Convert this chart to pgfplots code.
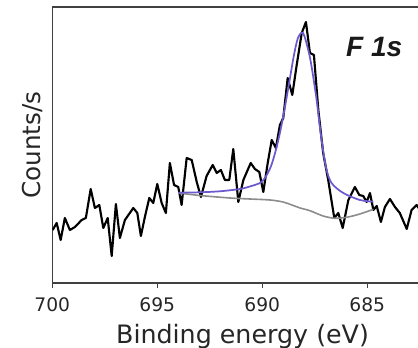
\documentclass[border=0pt]{standalone}
\usepackage{fontspec}
\setmainfont{DejaVu Sans}
\newfontfamily\arialfont{Liberation Sans}
\usepackage{pgfplots}
\pgfplotsset{compat=1.18}
\definecolor{fitblue}{RGB}{106,90,205}
\definecolor{bggray}{RGB}{140,140,140}
\begin{document}
\begin{tikzpicture}
\path[use as bounding box] (0,0) rectangle (313.5pt,261pt);
\begin{axis}[
  at={(39.2pt,48.75pt)}, anchor=south west,
  scale only axis, width=283.5pt, height=207pt,
  x dir=reverse, xmin=682, xmax=700, ymin=0, ymax=276,
  xtick={685,690,695,700}, ytick=\empty,
  xtick pos=bottom, tick align=outside,
  major tick length=3.75pt,
  every tick/.style={black!75, line width=0.8pt},
  axis line style={black!75, line width=0.8pt},
  /pgf/number format/assume math mode=true,
  tick label style={font=\fontsize{14}{16}\selectfont, text=black!85},
  xticklabel style={yshift=-4pt},
  xlabel={Binding energy (eV)},
  xlabel style={at={(axis cs:690.94,0)}, anchor=center, yshift=-40pt, font=\fontsize{19}{22}\selectfont, text=black!85},
  ylabel={Counts/s},
  ylabel style={at={(rel axis cs:0,0.5)}, anchor=center, yshift=15.2pt, font=\fontsize{18.5}{22}\selectfont, text=black!85},
  clip=true,
]
\addplot[black, line width=1.6pt, line join=round] coordinates {
(699.98,53)(699.79,60)(699.60,43)(699.40,65)(699.16,53)(698.92,56)(698.60,63)(698.40,65)
(698.17,94)(697.97,75)(697.76,78)(697.57,55)(697.36,65)(697.17,27)(696.97,79)(696.78,45)
(696.54,63)(696.14,75)(695.95,70)(695.78,47)(695.59,66)(695.38,85)(695.19,80)(695.00,99)
(694.79,80)(694.59,70)(694.40,120)(694.20,98)(694.00,96)(693.84,78)(693.60,125)(693.36,123)
(693.12,101)(692.92,86)(692.65,107)(692.36,118)(692.17,110)(691.97,113)(691.78,103)(691.57,103)
(691.38,134)(691.14,81)(690.90,103)(690.55,120)(690.35,114)(690.14,111)(689.95,91)(689.74,120)
(689.55,143)(689.35,135)(689.16,158)(689.00,165)(688.79,205)(688.57,188)(688.36,218)(688.12,250)
(687.92,261)(687.73,230)(687.54,228)(687.33,173)(687.10,130)(686.86,103)(686.57,65)(686.38,70)
(686.17,55)(685.90,83)(685.59,96)(685.38,88)(685.19,87)(685.03,81)(684.87,90)(684.71,73)
(684.55,77)(684.35,61)(684.16,76)(683.92,84)(683.68,76)(683.45,70)(683.12,54)(682.89,73)
(682.65,78)(682.49,73)
};
\addplot[bggray, line width=1.2pt, smooth] coordinates {
(694.00,90)(692.97,87.5)(691.54,85)(690.59,84)(689.63,83)(689.01,81)(688.59,78)(688.20,75)
(687.73,72.3)(687.10,67)(686.54,64.7)(685.98,65.7)(685.35,69)(684.71,73.7)
};
\addplot[fitblue, line width=1.3pt, smooth] coordinates {
(694.00,90.3)(692.97,90.7)(692.02,91.7)(691.06,94)(690.59,96.5)(690.11,100)(689.87,105)
(689.60,116)(689.39,130)(689.16,150)(688.92,176)(688.68,205)(688.49,228)(688.30,245)
(688.06,250)(687.81,233)(687.65,216.3)(687.41,183)(687.22,150)(686.97,116)(686.70,100)
(686.14,90)(685.35,83)(684.71,81.3)
};
\node[font=\arialfont\bfseries\itshape\fontsize{21}{24}\selectfont, text=black!90] at (axis cs:684.67,236.3) {F 1s};
\end{axis}
\end{tikzpicture}
\end{document}
